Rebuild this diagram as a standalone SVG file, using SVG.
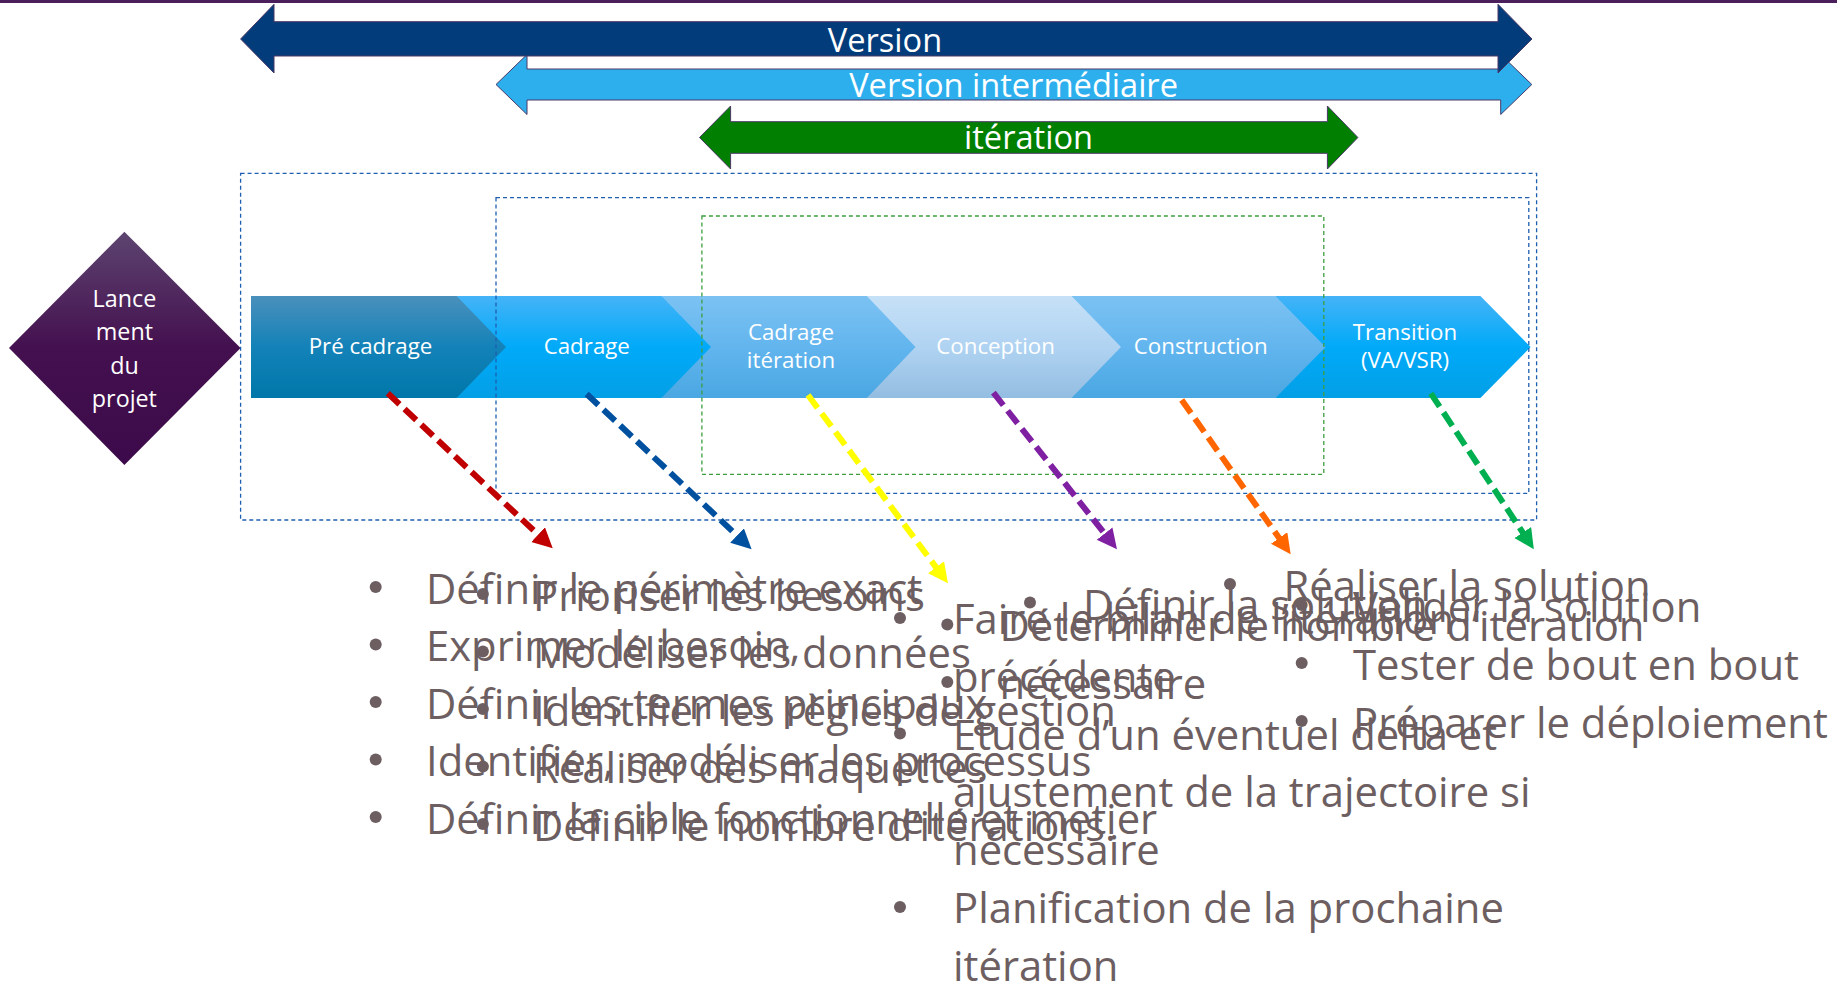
<svg xmlns="http://www.w3.org/2000/svg" width="1837" height="984" viewBox="0 0 1837 984">
<style>
.t{font-family:"Open Sans","Liberation Sans",sans-serif;}
.big{font-size:32.6px;fill:#ffffff;text-anchor:middle;}
.chev{font-size:22.3px;fill:#ffffff;text-anchor:middle;}
.dia{font-size:23.3px;fill:#ffffff;text-anchor:middle;}
.li{font-size:41.8px;fill:#6D5F61;}
.bul{fill:#6D5F61;}
.box{fill:none;stroke-width:1.3;stroke-dasharray:4 3;}
.arrowline{fill:none;stroke-width:6;stroke-dasharray:16 7;}
.bigarrow{stroke:#4a3866;stroke-width:1;}
</style>
<defs>
<linearGradient id="gDia" x1="0" y1="0" x2="0" y2="1">
<stop offset="0" stop-color="#5d4470"/><stop offset="0.5" stop-color="#44104f"/><stop offset="1" stop-color="#3c0a4a"/>
</linearGradient>
<linearGradient id="g1" x1="0" y1="0" x2="0" y2="1">
<stop offset="0" stop-color="#4a90bc"/><stop offset="0.5" stop-color="#1382b8"/><stop offset="1" stop-color="#0077a9"/>
</linearGradient>
<linearGradient id="g2" x1="0" y1="0" x2="0" y2="1">
<stop offset="0" stop-color="#45b3f7"/><stop offset="0.5" stop-color="#00aaf9"/><stop offset="1" stop-color="#039fe6"/>
</linearGradient>
<linearGradient id="g3" x1="0" y1="0" x2="0" y2="1">
<stop offset="0" stop-color="#7cc2f3"/><stop offset="0.5" stop-color="#62b5ee"/><stop offset="1" stop-color="#4aa7e2"/>
</linearGradient>
<linearGradient id="g4" x1="0" y1="0" x2="0" y2="1">
<stop offset="0" stop-color="#c6e1f7"/><stop offset="0.5" stop-color="#b0d3f2"/><stop offset="1" stop-color="#93bde1"/>
</linearGradient>
<marker id="mRed" markerUnits="userSpaceOnUse" markerWidth="22" markerHeight="22" refX="6" refY="10" orient="auto"><path d="M0,0 L20,10 L0,20 z" fill="#C00000"/></marker>
<marker id="mBlue" markerUnits="userSpaceOnUse" markerWidth="22" markerHeight="22" refX="6" refY="10" orient="auto"><path d="M0,0 L20,10 L0,20 z" fill="#0050A0"/></marker>
<marker id="mYellow" markerUnits="userSpaceOnUse" markerWidth="22" markerHeight="22" refX="6" refY="10" orient="auto"><path d="M0,0 L20,10 L0,20 z" fill="#FFFF00"/></marker>
<marker id="mPurple" markerUnits="userSpaceOnUse" markerWidth="22" markerHeight="22" refX="6" refY="10" orient="auto"><path d="M0,0 L20,10 L0,20 z" fill="#7F1FA2"/></marker>
<marker id="mOrange" markerUnits="userSpaceOnUse" markerWidth="22" markerHeight="22" refX="6" refY="10" orient="auto"><path d="M0,0 L20,10 L0,20 z" fill="#FF6600"/></marker>
<marker id="mGreen" markerUnits="userSpaceOnUse" markerWidth="22" markerHeight="22" refX="6" refY="10" orient="auto"><path d="M0,0 L20,10 L0,20 z" fill="#00B050"/></marker>
</defs>
<rect x="0" y="0" width="1837" height="984" fill="#ffffff"/>
<rect x="0" y="0" width="1837" height="3" fill="#4b1f5c"/>

<g id="version-intermediaire">
<polygon class="bigarrow" fill="#2DAFEE" points="496,84.5 527,54.5 527,69 1500.7,69 1500.7,54.5 1531.8,84.5 1500.7,114.5 1500.7,100 527,100 527,114.5"/>
<text class="t big" x="1013.6" y="96.5">Version intermédiaire</text>
</g>
<g id="version">
<polygon class="bigarrow" fill="#023C7A" points="240.6,39 274,4.3 274,21.7 1498,21.7 1498,4.3 1532,39 1498,73 1498,56 274,56 274,73"/>
<text class="t big" x="885" y="51.5">Version</text>
</g>
<g id="iteration">
<polygon class="bigarrow" fill="#007F00" points="699.5,137.5 730.6,106 730.6,121.7 1327.4,121.7 1327.4,106 1357.9,137.5 1327.4,169 1327.4,153.3 730.6,153.3 730.6,169"/>
<text class="t big" x="1028.5" y="149">itération</text>
</g>

<g id="lancement">
<polygon fill="url(#gDia)" points="124.4,231.7 240.6,348 124.4,465 9,348"/>
<text class="t dia" x="124.4" y="306.5">Lance</text>
<text class="t dia" x="124.4" y="340">ment</text>
<text class="t dia" x="124.4" y="373.5">du</text>
<text class="t dia" x="124.4" y="407">projet</text>
</g>

<g id="transition">
<polygon fill="url(#g2)" points="1275.4,296 1480.4,296 1530.6,347 1480.4,398 1275.4,398"/>
<text class="t chev" x="1405" y="339.5">Transition</text>
<text class="t chev" x="1405" y="368">(VA/VSR)</text>
</g>
<g id="construction">
<polygon fill="url(#g3)" points="1071.5,296 1275.4,296 1325.6,347 1275.4,398 1071.5,398"/>
<text class="t chev" x="1200.7" y="354">Construction</text>
</g>
<g id="conception">
<polygon fill="url(#g4)" points="866.8,296 1071.5,296 1121,347 1071.5,398 866.8,398"/>
<text class="t chev" x="995.6" y="354">Conception</text>
</g>
<g id="cadrage-iteration">
<polygon fill="url(#g3)" points="661.4,296 866.8,296 915.5,347 866.8,398 661.4,398"/>
<text class="t chev" x="791" y="339.5">Cadrage</text>
<text class="t chev" x="791" y="368">itération</text>
</g>
<g id="cadrage">
<polygon fill="url(#g2)" points="456.6,296 661.4,296 711,347 661.4,398 456.6,398"/>
<text class="t chev" x="586.8" y="354">Cadrage</text>
</g>
<g id="pre-cadrage">
<polygon fill="url(#g1)" points="251,296 456.6,296 506,347 456.6,398 251,398"/>
<text class="t chev" x="370.5" y="354">Pré cadrage</text>
</g>

<g id="boxes">
<rect class="box" stroke="#1F5FB0" x="240.6" y="173.3" width="1296" height="346.7"/>
<rect class="box" stroke="#1F5FB0" x="496" y="197.7" width="1032.8" height="295.6"/>
<rect class="box" stroke="#3E9E3E" x="701.9" y="216" width="621.9" height="258.3"/>
</g>

<g id="connectors">
<line class="arrowline" stroke="#C00000" x1="387.8" y1="393.3" x2="542.5" y2="538.7" marker-end="url(#mRed)"/>
<line class="arrowline" stroke="#0050A0" x1="586.7" y1="394" x2="741.4" y2="539.7" marker-end="url(#mBlue)"/>
<line class="arrowline" stroke="#FFFF00" x1="808" y1="395" x2="939.6" y2="572.1" marker-end="url(#mYellow)"/>
<line class="arrowline" stroke="#7F1FA2" x1="993.4" y1="392.7" x2="1108.3" y2="538.3" marker-end="url(#mPurple)"/>
<line class="arrowline" stroke="#FF6600" x1="1181.7" y1="400" x2="1282.6" y2="542.9" marker-end="url(#mOrange)"/>
<line class="arrowline" stroke="#00B050" x1="1430.8" y1="393.3" x2="1526.1" y2="537.6" marker-end="url(#mGreen)"/>
</g>

<g id="liste-pre-cadrage">
<circle class="bul" cx="375.7" cy="587" r="6"/>
<circle class="bul" cx="375.7" cy="644.5" r="6"/>
<circle class="bul" cx="375.7" cy="702" r="6"/>
<circle class="bul" cx="375.7" cy="759.5" r="6"/>
<circle class="bul" cx="375.7" cy="817" r="6"/>
<text class="t li" x="426" y="603.5">Définir le périmètre exact</text>
<text class="t li" x="426" y="661">Exprimer le besoin,</text>
<text class="t li" x="426" y="718.5">Définir les termes principaux</text>
<text class="t li" x="426" y="776">Identifier, modéliser les processus</text>
<text class="t li" x="426" y="833.5">Définir la cible fonctionnelle et metier</text>
</g>

<g id="liste-cadrage">
<circle class="bul" cx="482.9" cy="594" r="6"/>
<circle class="bul" cx="482.9" cy="651.5" r="6"/>
<circle class="bul" cx="482.9" cy="709" r="6"/>
<circle class="bul" cx="482.9" cy="766.5" r="6"/>
<circle class="bul" cx="482.9" cy="824" r="6"/>
<text class="t li" x="533" y="610.5">Prioriser les besoins</text>
<text class="t li" x="533" y="668">Modéliser les données</text>
<text class="t li" x="533" y="725.5">Identifier les règles de gestion</text>
<text class="t li" x="533" y="783">Réaliser des maquettes</text>
<text class="t li" x="533" y="840.5">Définir le nombre d’itérations.</text>
</g>

<g id="liste-cadrage-iteration">
<circle class="bul" cx="900" cy="618" r="6"/>
<circle class="bul" cx="900" cy="733.5" r="6"/>
<circle class="bul" cx="900" cy="907" r="6"/>
<text class="t li" x="953" y="634">Faire le bilan de l’itération</text>
<text class="t li" x="953" y="691.8">précédente</text>
<text class="t li" x="953" y="749.6">Etude d’un éventuel delta et</text>
<text class="t li" x="953" y="807.4">ajustement de la trajectoire si</text>
<text class="t li" x="953" y="865.2">nécessaire</text>
<text class="t li" x="953" y="923">Planification de la prochaine</text>
<text class="t li" x="953" y="980.5">itération</text>
</g>

<g id="liste-iterations">
<circle class="bul" cx="947.3" cy="624.5" r="6"/>
<circle class="bul" cx="947.3" cy="682" r="6"/>
<text class="t li" x="999.5" y="641">Déterminer le nombre d’itération</text>
<text class="t li" x="999.5" y="698.5">nécessaire</text>
</g>

<g id="liste-conception">
<circle class="bul" cx="1030" cy="602.5" r="6"/>
<text class="t li" x="1083" y="619.5">Définir la solution</text>
</g>

<g id="liste-construction">
<circle class="bul" cx="1230" cy="584" r="6"/>
<text class="t li" x="1283.5" y="600.5">Réaliser la solution</text>
</g>

<g id="liste-transition">
<circle class="bul" cx="1301.7" cy="605" r="6"/>
<circle class="bul" cx="1301.7" cy="663" r="6"/>
<circle class="bul" cx="1301.7" cy="721" r="6"/>
<text class="t li" x="1353" y="621.5">Valider la solution</text>
<text class="t li" x="1353" y="679.5">Tester de bout en bout</text>
<text class="t li" x="1353" y="737.5">Préparer le déploiement</text>
</g>
</svg>
